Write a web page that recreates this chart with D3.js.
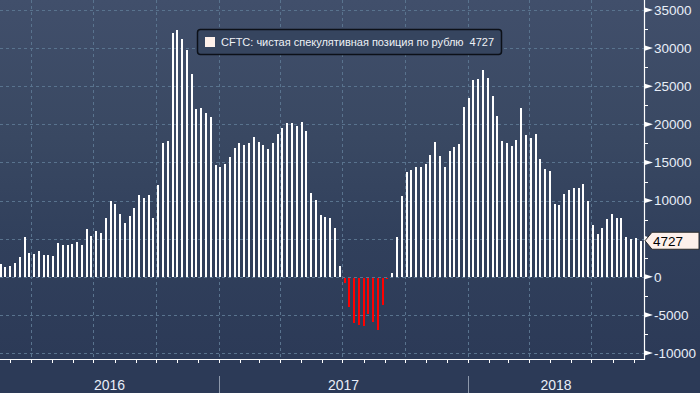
<!DOCTYPE html>
<html><head><meta charset="utf-8">
<script src="https://cdn.jsdelivr.net/npm/d3@7"></script>
<style>html,body{margin:0;padding:0;background:#2c3a57;overflow:hidden}</style>
</head><body><svg id="c" width="700" height="393"></svg>
<script>
// ---- data ----
const firstWeek = "2016-02-16";   // weekly CFTC reports (Tuesdays)
const netPosition = [
  1660,1270,1440,1790,2620,5240,3100,3010,3360,2840,2880,2750,4410,4150,4150,4280,4540,4150,6240,5330,
  5980,5720,7680,9910,9520,8210,7030,7950,9000,10700,10300,10700,7680,12000,17500,17770,32030,32420,31240,29800,
  26660,21950,22080,21430,20910,14630,14360,14750,15670,16850,17500,17240,17500,18290,17630,17240,16720,17500,18680,19470,
  20120,20120,19730,20260,19080,10960,10080,8080,7820,7680,6370,1400,-650,-3800,-5890,-6150,-6330,-4750,-5800,-6850,
  -3530,-100,480,5200,10560,13700,13960,14360,14360,14750,15930,17630,15800,14360,16450,16980,17370,22210,23520,25880,
  26010,27190,26140,23780,21030,17760,17500,17110,17900,22080,18550,18160,18680,15410,14100,13830,9520,9390,10830,11350,
  11610,11610,12140,9910,6770,5590,6370,7550,8210,7680,7680,5200,4940,5070,4727
];
const yTickValues = [-10000,-5000,0,5000,10000,15000,20000,25000,30000,35000];
const yearLabels = ["2016","2017","2018"];
const legendLabel = "CFTC: чистая спекулятивная позиция по рублю";
const lastValue = 4727;
const xDomain = ["2016-02-15","2018-09-16"];

// ---- layout ----
const W = 700, H = 393, plotR = 644, axisY = 359;
const FONT = "Liberation Sans, Arial, sans-serif";
const parse = d3.utcParse("%Y-%m-%d");
const start = parse(firstWeek);
const data = netPosition.map((v,i)=>({date:d3.utcDay.offset(start,i*7), v}));

const x = d3.scaleUtc().domain(xDomain.map(parse)).range([0, plotR]);
const y = d3.scaleLinear().domain([-10000,35000]).range([353,10]);

const svg = d3.select("#c");
const defs = svg.append("defs");
const g = defs.append("linearGradient").attr("id","bg").attr("x1",0).attr("y1",0).attr("x2",0).attr("y2",1);
g.append("stop").attr("offset","0%").attr("stop-color","#414f6b");
g.append("stop").attr("offset","35%").attr("stop-color","#394862");
g.append("stop").attr("offset","60%").attr("stop-color","#31405c");
g.append("stop").attr("offset","91%").attr("stop-color","#2c3a57");
g.append("stop").attr("offset","100%").attr("stop-color","#2c3a57");
svg.append("rect").attr("width",W).attr("height",H).attr("fill","url(#bg)");

// grid
const gridColor = "#59738e";
svg.append("g").selectAll("line").data(yTickValues).join("line")
  .attr("x1",0).attr("x2",plotR).attr("y1",d=>Math.round(y(d))+0.5).attr("y2",d=>Math.round(y(d))+0.5)
  .attr("stroke",gridColor).attr("stroke-dasharray","3,3").attr("stroke-width",1);
const quarters = d3.utcMonth.every(3).range(x.domain()[0], x.domain()[1]);
svg.append("g").selectAll("line").data(quarters).join("line")
  .attr("x1",d=>Math.round(x(d))+0.5).attr("x2",d=>Math.round(x(d))+0.5).attr("y1",0).attr("y2",axisY)
  .attr("stroke",gridColor).attr("stroke-dasharray","3,3").attr("stroke-width",1);

// bars
const y0 = Math.round(y(0));
svg.append("g").attr("shape-rendering","crispEdges").selectAll("rect").data(data).join("rect")
  .attr("x",d=>Math.round(x(d.date))-1).attr("width",2)
  .attr("y",d=>d.v>=0?Math.round(y(d.v)):y0+1)
  .attr("height",d=>Math.max(1,Math.abs(Math.round(y(d.v))-y0)))
  .attr("fill",d=>d.v<0?"#ff0000":"#ffffff");

// y axis (right)
svg.append("line").attr("x1",plotR+0.5).attr("x2",plotR+0.5).attr("y1",0).attr("y2",axisY+1)
  .attr("stroke","#ffffff").attr("stroke-width",1.2);
const minor = d3.range(-7500,35000,5000);
svg.append("g").selectAll("line").data(minor).join("line")
  .attr("x1",plotR).attr("x2",plotR+4).attr("y1",d=>Math.round(y(d))+0.5).attr("y2",d=>Math.round(y(d))+0.5)
  .attr("stroke","#ffffff");
svg.append("g").selectAll("path").data(yTickValues).join("path")
  .attr("d",d=>{const yy=y(d);return `M${plotR},${yy-2.8}L${plotR+9},${yy}L${plotR},${yy+2.8}Z`;})
  .attr("fill","#ffffff");
const ty = y(lastValue);
svg.append("g").selectAll("text").data(yTickValues.filter(d=>Math.abs(y(d)-ty)>12)).join("text")
  .attr("x",plotR+10).attr("y",d=>y(d)).attr("dy","0.36em")
  .attr("font-family",FONT).attr("font-size",13.5)
  .attr("fill","#e8eef8").text(d=>d);

// last value tag
svg.append("path").attr("d",`M${plotR+1},${ty}L${plotR+8},${ty-8.5}L${W-1},${ty-8.5}L${W-1},${ty+8.5}L${plotR+8},${ty+8.5}Z`)
  .attr("fill","#fdf0ea").attr("stroke","#2a2a2a").attr("stroke-width",1);
svg.append("text").attr("x",plotR+9).attr("y",ty).attr("dy","0.36em")
  .attr("font-family",FONT).attr("font-size",13.5)
  .attr("fill","#000").text(lastValue);

// x axis
svg.append("line").attr("x1",0).attr("x2",plotR+1).attr("y1",axisY+0.5).attr("y2",axisY+0.5)
  .attr("stroke","#ffffff").attr("stroke-width",1.2);
const months = d3.utcMonth.range(x.domain()[0], x.domain()[1]);
svg.append("g").selectAll("line").data(months).join("line")
  .attr("x1",d=>Math.round(x(d))+0.5).attr("x2",d=>Math.round(x(d))+0.5).attr("y1",axisY).attr("y2",axisY+4)
  .attr("stroke","#ffffff");
const years = d3.utcYear.range(x.domain()[0], x.domain()[1]);
svg.append("g").selectAll("line").data(years).join("line")
  .attr("x1",d=>Math.round(x(d))+0.5).attr("x2",d=>Math.round(x(d))+0.5).attr("y1",376).attr("y2",H)
  .attr("stroke","#8d98ab").attr("stroke-width",1);
const bounds = [x.domain()[0], ...years, x.domain()[1]];
svg.append("g").selectAll("text").data(yearLabels).join("text")
  .attr("x",(d,i)=>(x(bounds[i])+x(bounds[i+1]))/2).attr("y",385).attr("dy","0.36em")
  .attr("text-anchor","middle").attr("font-family",FONT).attr("font-size",14)
  .attr("fill","#e8eef8").text(d=>d);

// legend
const lg = svg.append("g");
lg.append("rect").attr("x",197.5).attr("y",29.5).attr("width",304).attr("height",25).attr("rx",3)
  .attr("fill","#36455f").attr("stroke","#0c1018").attr("stroke-width",1.5);
lg.append("rect").attr("x",205).attr("y",37).attr("width",10).attr("height",10).attr("fill","#fdf0ea");
const lt = lg.append("text").attr("x",221).attr("y",42).attr("dy","0.36em")
  .attr("font-family",FONT).attr("font-size",11).attr("fill","#eef1f6")
  .attr("textLength",273).attr("lengthAdjust","spacing");
lt.append("tspan").text(legendLabel);
lt.append("tspan").attr("dx",6).text(lastValue);
</script></body></html>
